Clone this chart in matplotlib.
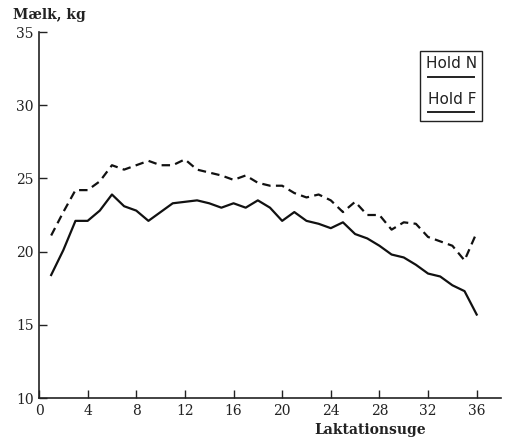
import matplotlib
matplotlib.use("Agg")
import matplotlib.pyplot as plt
from matplotlib.patches import Rectangle
from matplotlib.lines import Line2D

weeks = list(range(1, 37))
hold_n = [18.4, 20.1, 22.1, 22.1, 22.8, 23.9, 23.1, 22.8, 22.1, 22.7,
          23.3, 23.4, 23.5, 23.3, 23.0, 23.3, 23.0, 23.5, 23.0, 22.1,
          22.7, 22.1, 21.9, 21.6, 22.0, 21.2, 20.9, 20.4, 19.8, 19.6,
          19.1, 18.5, 18.3, 17.7, 17.3, 15.7]
hold_f = [21.1, 22.7, 24.2, 24.2, 24.8, 25.9, 25.6, 25.9, 26.2, 25.9,
          25.9, 26.3, 25.6, 25.4, 25.2, 24.9, 25.2, 24.7, 24.5, 24.5,
          24.0, 23.7, 23.9, 23.5, 22.7, 23.4, 22.5, 22.5, 21.5, 22.0,
          21.9, 21.0, 20.7, 20.4, 19.4, 21.3]
x_ticks = [0, 4, 8, 12, 16, 20, 24, 28, 32, 36]
y_ticks = [10, 15, 20, 25, 30, 35]
legend_labels = ["Hold N", "Hold F"]
y_label = "Mælk, kg"
x_label = "Laktationsuge"

W, H = 507, 438
fig = plt.figure(figsize=(W / 100, H / 100), dpi=100)
ax = fig.add_axes([39 / W, 40 / H, (501 - 39) / W, (398 - 32) / H])

ax.plot(weeks, hold_n, color="#111111", lw=1.6, solid_joinstyle="round")
ax.plot(weeks, hold_f, color="#111111", lw=1.6, linestyle=(0, (3.8, 2.4)))

ax.set_xlim(0, 38)
ax.set_ylim(10, 35)
ax.set_xticks(x_ticks)
ax.set_yticks(y_ticks)
for s in ["top", "right"]:
    ax.spines[s].set_visible(False)
for s in ["left", "bottom"]:
    ax.spines[s].set_linewidth(1.2)
    ax.spines[s].set_color("#222222")
ax.tick_params(direction="in", length=6, width=1, colors="#222222", pad=4)
for lab in ax.get_xticklabels() + ax.get_yticklabels():
    lab.set_fontfamily("DejaVu Serif")
    lab.set_fontsize(10)

fig.text(13 / W, 1 - 15 / H, y_label, family="DejaVu Serif", fontsize=10,
         fontweight="bold", va="center", ha="left", color="#222222")
fig.text(370 / W, 1 - 430 / H, x_label, family="DejaVu Serif", fontsize=10,
         fontweight="bold", va="center", ha="center", color="#222222")

# legend box
box = Rectangle((420 / W, 1 - 121 / H), 62 / W, 70 / H, transform=fig.transFigure,
                fill=False, edgecolor="#222222", lw=1.0)
fig.add_artist(box)
for i, lab in enumerate(legend_labels):
    ty = 63 + i * 37
    ly = 77 + i * 35
    fig.text(452 / W, 1 - ty / H, lab, family="DejaVu Sans", fontsize=11,
             ha="center", va="center", color="#222222")
    fig.add_artist(Line2D([428 / W, 474 / W], [1 - ly / H, 1 - ly / H],
                          transform=fig.transFigure, color="#222222", lw=1.4))

fig.savefig("out.png", dpi=100)
